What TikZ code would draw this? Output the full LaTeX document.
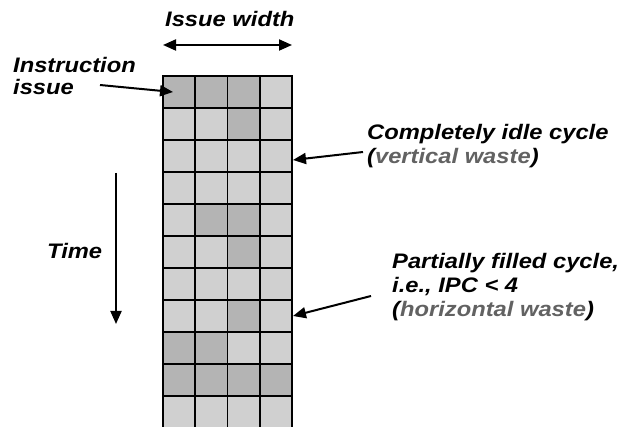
\documentclass[tikz,border=0pt]{standalone}
\usepackage{fontspec}
\newfontfamily\lab{Liberation Sans}[FakeStretch=1.13]
\usetikzlibrary{arrows.meta}
\definecolor{cellL}{RGB}{208,208,208}
\definecolor{cellD}{RGB}{180,180,180}
\definecolor{wastegray}{RGB}{98,98,98}
\begin{document}
\begin{tikzpicture}[x=1pt,y=-1pt,
  lbl/.style={font=\lab\bfseries\itshape\fontsize{21}{24}\selectfont, inner sep=0pt, anchor=base west},
  gridline/.style={line width=1.8pt, line cap=rect},
  arr/.style={line width=2pt, -{Triangle[length=13pt,width=11pt]}},
  darr/.style={line width=2pt, {Triangle[length=13pt,width=11pt]}-{Triangle[length=13pt,width=11pt]}}]
\useasboundingbox (0,0) rectangle (621,427);
% cells
\fill[cellL] (163,76) rectangle (292,430);
\foreach \r/\c in {0/0,0/1,0/2,1/2,4/1,4/2,5/2,7/2,8/0,8/1,9/0,9/1,9/2,9/3}
  \fill[cellD] ({163+\c*32.25},{76+\r*32}) rectangle ++(32.25,32);
\foreach \c in {0,...,4}
  \draw[gridline] ({163+\c*32.25},76) -- ({163+\c*32.25},430);
\foreach \r in {0,...,10}
  \draw[gridline] (163,{76+\r*32}) -- (292,{76+\r*32});
% labels
\node[lbl] (iw) at (165,27) {Issue width};
\node[lbl] (ins1) at (13,73) {Instruction};
\node[lbl] (ins2) at (13,95) {issue};
\node[lbl] (time) at (47,259) {Time};
\node[lbl] (idle1) at (367,140) {Completely idle cycle};
\node[lbl] (idle2) at (367,164) {(\textcolor{wastegray}{vertical waste})};
\node[lbl] (part1) at (392,269) {Partially filled cycle,};
\node[lbl] (part2) at (392,293) {i.e., IPC < 4};
\node[lbl] (part3) at (392,317) {(\textcolor{wastegray}{horizontal waste})};
% connector ends
\coordinate (iwL) at (163,45);
\coordinate (iwR) at (292,45);
\coordinate (insS) at (100,85);
\coordinate (insT) at (173,92);
\coordinate (tS) at (116,173);
\coordinate (tT) at (116,324);
\coordinate (idS) at (363,152);
\coordinate (idT) at (293,160);
\coordinate (paS) at (371,296);
\coordinate (paT) at (293,316);
\draw[darr] (iwL) -- (iwR);
\draw[arr] (insS) -- (insT);
\draw[arr] (tS) -- (tT);
\draw[arr] (idS) -- (idT);
\draw[arr] (paS) -- (paT);
\end{tikzpicture}
\end{document}
